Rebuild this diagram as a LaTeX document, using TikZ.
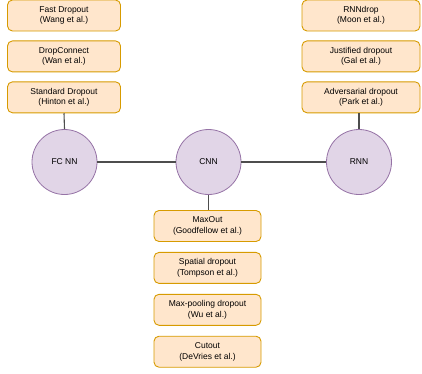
\documentclass[tikz,border=0pt]{standalone}
\usepackage{fontspec}
\setmainfont{Liberation Sans}
\usetikzlibrary{positioning}
\definecolor{paperfill}{HTML}{FFE6CC}
\definecolor{paperline}{HTML}{D79B00}
\definecolor{netfill}{HTML}{E1D5E7}
\definecolor{netline}{HTML}{9673A6}
\definecolor{wire}{HTML}{4D4D4D}

\begin{document}
\begin{tikzpicture}[x=1pt, y=-1pt, every node/.style={font=\fontsize{8.5}{10.5}\selectfont},
    paper/.style={draw=paperline, fill=paperfill, rounded corners=5pt, minimum height=31pt,
      align=center, inner sep=0pt, line width=0.9pt},
    net/.style={circle, draw=netline, fill=netfill, minimum size=65pt, inner sep=0pt, line width=0.8pt},
    wire/.style={draw=wire, line width=1.1pt}]
      \useasboundingbox (0,0) rectangle (422,373);
      % the three network families
      \coordinate (fc) at (64.5,162);
      \coordinate (cnn) at (208.5,162);
      \coordinate (rnn) at (359,162);

      \node[net] (fcnn) at (fc) {FC NN};
      \node[net] (cnnode) at (cnn) {CNN};
      \node[net] (rnnode) at (rnn) {RNN};

      % fully connected
      \node[paper, minimum width=113pt] (fast) at (64,15.5) {Fast Dropout\\(Wang et al.)};
      \node[paper, minimum width=113pt, below=9pt of fast] (dropconn) {DropConnect\\(Wan et al.)};
      \node[paper, minimum width=113pt, below=9pt of dropconn] (standard) {Standard Dropout\\(Hinton et al.)};

      % recurrent
      \node[paper, minimum width=118pt] (rnndrop) at (361,15.5) {RNNdrop\\(Moon et al.)};
      \node[paper, minimum width=118pt, below=9pt of rnndrop] (justified) {Justified dropout\\(Gal et al.)};
      \node[paper, minimum width=118pt, below=9pt of justified] (adversarial) {Adversarial dropout\\(Park et al.)};

      % convolutional
      \node[paper, minimum width=107pt] (maxout) at (207.5,226) {MaxOut\\(Goodfellow et al.)};
      \node[paper, minimum width=107pt, below=10pt of maxout] (spatial) {Spatial dropout\\(Tompson et al.)};
      \node[paper, minimum width=107pt, below=10pt of spatial] (maxpool) {Max-pooling dropout\\(Wu et al.)};
      \node[paper, minimum width=107pt, below=10pt of maxpool] (cutout) {Cutout\\(DeVries et al.)};

      \draw[wire] (fcnn) -- (cnnode);
      \draw[wire] (cnnode) -- (rnnode);
      \draw[wire] (standard.south) -- (fcnn.north);
      \draw[wire] (adversarial.south -| rnnode.north) -- (rnnode.north);
      \draw[wire] (cnnode.south) -- (maxout.north -| cnnode.south);
    \end{tikzpicture}
\end{document}
